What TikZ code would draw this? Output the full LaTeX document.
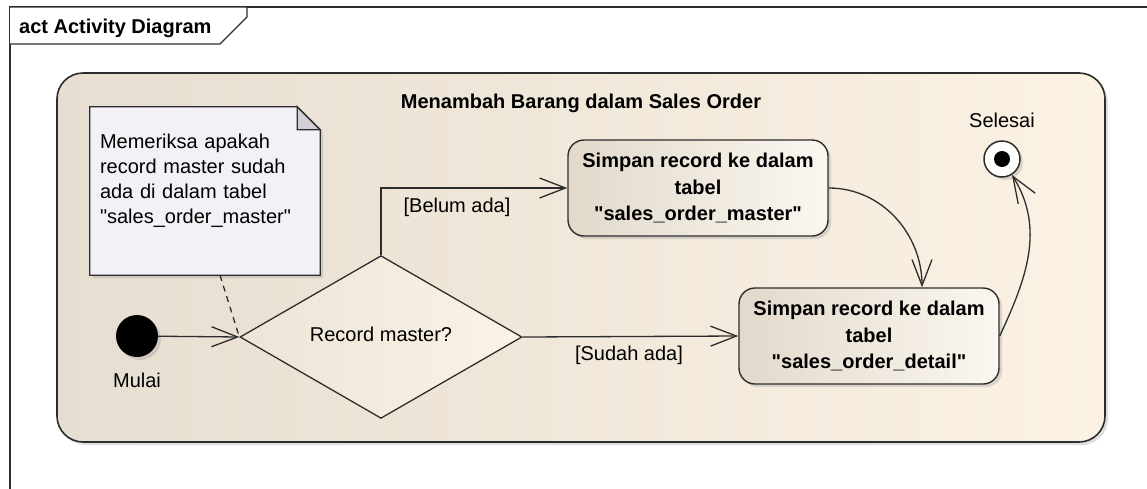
\documentclass[tikz,border=0pt]{standalone}
\usepackage{fontspec}
\setmainfont{Liberation Sans}[Ligatures=TeXOff]
\usetikzlibrary{shapes.geometric,arrows.meta,positioning,shadows,calc,backgrounds}

\definecolor{regL}{RGB}{230,222,208}
\definecolor{regR}{RGB}{251,242,228}
\definecolor{actL}{RGB}{226,217,203}
\definecolor{actR}{RGB}{251,247,240}
\definecolor{decL}{RGB}{236,228,214}
\definecolor{decR}{RGB}{251,243,230}
\definecolor{notebg}{RGB}{244,241,246}
\definecolor{fold}{RGB}{211,207,214}
\definecolor{edge}{RGB}{45,45,45}

\tikzset{
  txt/.style={font=\fontsize{20}{25}\selectfont, inner sep=0pt},
  boldtxt/.style={font=\fontsize{20}{25}\selectfont\bfseries, inner sep=0pt},
  shade/.style={drop shadow={shadow xshift=3pt, shadow yshift=-3pt, opacity=.25}},
  frame/.style={draw=edge, line width=1.3pt},
  region/.style={draw=edge, line width=1.6pt, rounded corners=26pt, left color=regL, right color=regR,
    minimum width=1048pt, minimum height=369pt, shade},
  notebox/.style={rectangle, minimum width=230pt, minimum height=168pt, text width=210pt, inner sep=10pt,
    align=left, font=\fontsize{20}{25}\selectfont},
  action/.style={draw=edge, line width=1.4pt, rounded corners=16pt, left color=actL, right color=actR,
    minimum width=260pt, minimum height=96pt, align=center, font=\fontsize{20}{26.5}\selectfont\bfseries, shade},
  decision/.style={diamond, draw=edge, line width=1.3pt, left color=decL, right color=decR,
    minimum width=282pt, minimum height=150pt, inner sep=0pt, font=\fontsize{20}{25}\selectfont},
  initial/.style={circle, fill=black, minimum size=42pt, inner sep=0pt, shade},
  final/.style={circle, draw=edge, line width=1.5pt, fill=white, minimum size=36pt, inner sep=0pt, shade,
    path picture={\fill[black] (path picture bounding box.center) circle (8pt);}},
  flow/.style={draw=edge, line width=1.3pt, -{Straight Barb[length=26pt, width=20pt, line width=1.3pt]}},
}

\begin{document}
\begin{tikzpicture}[x=1pt, y=1pt]
\useasboundingbox (0,0) rectangle (1147,-488);

% Frame
\draw[frame] (1160,-7) -- (10,-7) -- (10,-500);
\draw[frame, fill=white] (10,-7) -- (247,-7) -- (247,-17) -- (220,-44) -- (10,-44);
\node[boldtxt, anchor=base west] (frameLbl) at (19,-33) {act Activity Diagram};

% Activity
\begin{scope}[on background layer]
\node[region] (act) at (581,-257.5) {};
\end{scope}
\node[boldtxt] (title) at (581,-103) {Menambah Barang dalam Sales Order};

% Note
\node[notebox] (note) at (205,-191) {Memeriksa apakah\\record master sudah\\ada di dalam tabel\\"sales\_order\_master"\\\mbox{}};
\begin{scope}[on background layer]
\draw[frame, fill=notebg, shade] (note.north west) -- ($(note.north east)+(-23,0)$) -- ($(note.north east)+(0,-23)$)
  -- (note.south east) -- (note.south west) -- cycle;
\draw[frame, fill=fold] ($(note.north east)+(-23,0)$) |- ($(note.north east)+(0,-23)$) -- cycle;
\end{scope}

% Start + decision
\node[initial] (start) at (137,-336) {};
\node[txt, below=16pt of start] (mulai) {Mulai};
\node[decision] (dec) at (381,-337) {\raisebox{6pt}{Record master?}};
\draw[frame, dashed, dash pattern=on 6pt off 5pt] ($(note.south)+(15,0)$) -- (dec.west);
\draw[flow] (start) -- (dec.west);

% Actions
\node[action] (act1) at (698,-188) {Simpan record ke dalam\\tabel\\"sales\_order\_master"};
\node[action] (act2) at (869,-336) {Simpan record ke dalam\\tabel\\"sales\_order\_detail"};
\draw[flow] (dec.north) |- (act1.west);
\node[txt] (belum) at (457,-207) {[Belum ada]};
\draw[flow] (dec.east) -- (act2.west);
\node[txt] (sudah) at (629,-355) {[Sudah ada]};
\draw[flow] (act1.east) to[out=0, in=90] ($(act2.north)+(53,0)$);

% End
\node[final] (final) at (1002,-159) {};
\node[txt, above=12pt of final] (selesai) {Selesai};
\draw[flow] (act2.east) to[out=65, in=-58] (final);
\end{tikzpicture}
\end{document}
